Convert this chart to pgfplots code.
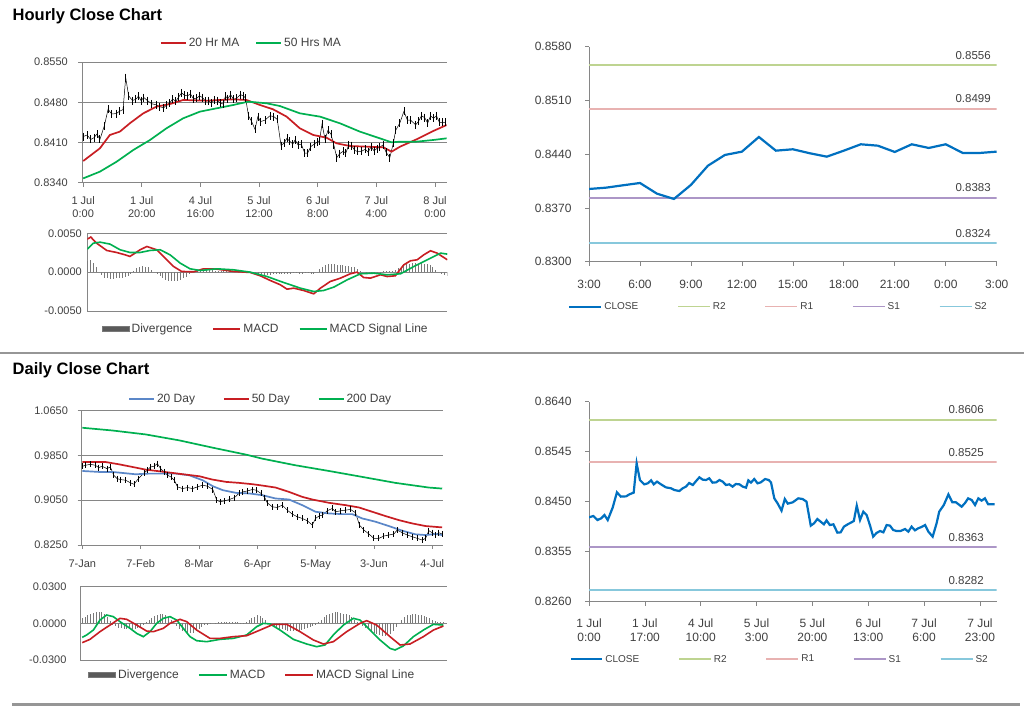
\documentclass[border=0pt]{standalone}
\usepackage{fontspec}
\setmainfont{Liberation Sans}
\usepackage{pgfplots}
\pgfplotsset{compat=1.18}
\usepackage{pgfplotstable}

\definecolor{axgray}{RGB}{134,134,134}
\definecolor{sepgray}{RGB}{150,150,150}
\definecolor{txt}{RGB}{64,64,64}
\definecolor{mared}{RGB}{200,30,35}
\definecolor{magreen}{RGB}{0,176,80}
\definecolor{mablue}{RGB}{91,135,200}
\definecolor{closeblue}{RGB}{0,112,192}
\definecolor{rtwo}{RGB}{190,212,145}
\definecolor{rone}{RGB}{232,178,177}
\definecolor{sone}{RGB}{172,150,199}
\definecolor{stwo}{RGB}{135,200,220}
\definecolor{divgray}{RGB}{120,120,120}
\definecolor{divleg}{RGB}{90,90,90}

\newcommand\tf{\fontsize{11}{13}\selectfont}
\newcommand\tfr{\fontsize{12}{14}\selectfont}
\newcommand\lf{\fontsize{12}{14}\selectfont}
\newcommand\rf{\fontsize{10}{12}\selectfont}

\pgfplotsset{
  base/.style={scale only axis, anchor=south west,
    axis line style={draw=axgray,line width=0.8pt},
    tick align=outside, major tick length=4pt,
    tick style={draw=axgray,line width=0.7pt},
    grid style={draw=axgray,line width=0.7pt},
    scaled y ticks=false,
    xticklabel style={align=center,font=\tf},
    yticklabel style={font=\tf},
    legend cell align=left},
  thinleg/.style={legend image code/.code={\draw[##1, line width=1.6pt] (0pt,0pt) -- (32pt,0pt);}},
  divlegimg/.style={legend image code/.code={\fill[fill=divleg] (0pt,-2.5pt) rectangle (27pt,2.5pt);}},
}

\pgfplotstableread{
h v
0 0.84203
1.3 0.84228
2.6 0.84152
3.7 0.84184
4.7 0.84247
5.7 0.84152
7.2 0.84387
8.5 0.84678
9.7 0.84596
11.3 0.84602
12.3 0.84640
13.6 0.84672
14.5 0.85229
15.5 0.84912
16.8 0.84830
17.9 0.84849
18.9 0.84906
19.7 0.84830
20.7 0.84881
21.9 0.84830
23.4 0.84773
25.0 0.84754
26.0 0.84722
27.5 0.84703
28.5 0.84754
29.5 0.84786
30.5 0.84855
31.6 0.84817
32.6 0.84893
33.6 0.84963
34.6 0.84919
35.6 0.84912
36.6 0.84944
37.6 0.84862
38.7 0.84868
39.7 0.84912
40.7 0.84881
41.7 0.84817
42.7 0.84830
43.7 0.84786
44.7 0.84836
45.8 0.84830
46.8 0.84786
47.8 0.84767
48.5 0.84906
49.3 0.84862
50.3 0.84931
51.3 0.84849
52.3 0.84868
53.6 0.84931
54.7 0.84912
55.4 0.84868
56.4 0.84564
57.4 0.84469
58.6 0.84330
59.6 0.84551
60.5 0.84463
62.0 0.84488
63.7 0.84564
65.0 0.84551
66.2 0.84501
67.5 0.84045
68.5 0.84089
69.5 0.84171
70.5 0.84121
71.5 0.84070
72.3 0.84146
73.3 0.84057
74.4 0.84070
75.6 0.83912
76.6 0.83918
77.6 0.84026
78.9 0.84076
79.9 0.84108
80.6 0.84133
81.5 0.84425
82.5 0.84152
83.5 0.84311
84.5 0.84247
85.5 0.84057
86.5 0.83836
87.5 0.83905
88.6 0.83943
89.6 0.83918
90.6 0.84057
91.6 0.84045
92.6 0.83962
93.6 0.83943
94.8 0.83943
96.2 0.83981
97.2 0.83931
98.2 0.84026
99.2 0.83956
100.2 0.83994
101.2 0.84019
102.3 0.84057
103.3 0.83931
104.6 0.83836
105.8 0.84089
106.6 0.84311
108.0 0.84437
109.4 0.84640
110.6 0.84488
111.7 0.84488
113.4 0.84406
114.4 0.84469
115.4 0.84564
116.5 0.84532
117.5 0.84437
118.5 0.84564
119.5 0.84520
120.5 0.84564
121.5 0.84450
122.5 0.84450
123.5 0.84450
}\hourly

\pgfplotstableread{
d v
0 0.9654
1.1 0.9672
2.9 0.9690
4.7 0.9672
5.9 0.9631
7.1 0.9654
8.9 0.9613
10.1 0.9643
11.3 0.9494
12.5 0.9435
13.8 0.9417
15.6 0.9406
17.4 0.9358
18.6 0.9334
20.2 0.9435
22.2 0.9536
23.4 0.9583
24.6 0.9643
25.8 0.9654
27.0 0.9702
28.2 0.9613
29.4 0.9554
30.7 0.9494
31.9 0.9465
33.1 0.9406
34.3 0.9287
36.1 0.9257
37.9 0.9275
39.7 0.9257
41.5 0.9287
43.3 0.9317
45.1 0.9299
47.0 0.9240
48.4 0.9050
49.6 0.9020
51.2 0.9038
53.0 0.9062
54.8 0.9097
56.4 0.9169
57.8 0.9198
59.6 0.9216
61.2 0.9240
62.6 0.9228
64.4 0.9169
65.7 0.9097
66.6 0.9003
68.4 0.8931
70.2 0.8920
72.0 0.8961
73.8 0.8872
75.6 0.8801
77.4 0.8754
79.2 0.8724
81.0 0.8683
82.8 0.8606
84.0 0.8724
85.2 0.8766
86.4 0.8783
88.2 0.8860
90.0 0.8902
91.2 0.8843
93.0 0.8860
94.8 0.8872
96.6 0.8884
98.4 0.8825
99.8 0.8606
101.4 0.8517
103.2 0.8446
105.0 0.8368
106.8 0.8368
108.6 0.8410
110.4 0.8428
112.2 0.8446
113.4 0.8517
115.2 0.8469
117.0 0.8428
118.8 0.8398
120.6 0.8368
122.4 0.8339
123.6 0.8368
124.8 0.8505
126.0 0.8469
127.2 0.8428
128.4 0.8469
129.6 0.8446
}\daily

\begin{document}
\color{txt}%
\begin{tikzpicture}
\path[use as bounding box, fill=white] (0pt,0pt) rectangle (1024pt,706pt);
\node[anchor=base west, font=\bfseries\fontsize{16.5}{19}\selectfont, inner sep=0pt, text=black] at (12.5pt,685.3pt) {Hourly Close Chart};
\node[anchor=base west, font=\bfseries\fontsize{16.5}{19}\selectfont, inner sep=0pt, text=black] at (12.5pt,331pt) {Daily Close Chart};
\draw[draw=sepgray, line width=1.2pt] (0pt,353pt) -- (1024pt,353pt);
\draw[draw=sepgray, line width=2.5pt] (12pt,1.5pt) -- (1020pt,1.5pt);

% ---------------- Panel 1: hourly price ----------------
\begin{axis}[base, at={(82.3pt,523.3pt)}, width=364.4pt, height=120.7pt,
  xmin=-0.3, xmax=124, ymin=0.834, ymax=0.855,
  axis x line*=bottom, axis y line*=left,
  ytick={0.834,0.841,0.848,0.855}, yticklabels={0.8340,0.8410,0.8480,0.8550},
  yticklabel style={xshift=-7pt}, xticklabel style={yshift=-6pt},
  ymajorgrids,
  xtick={0,20,40,60,80,100,120},
  xticklabels={{1 Jul\\0:00},{1 Jul\\20:00},{4 Jul\\16:00},{5 Jul\\12:00},{6 Jul\\8:00},{7 Jul\\4:00},{8 Jul\\0:00}},
  legend columns=-1,
  legend image code/.code={\draw[#1] (0pt,0pt) -- (25pt,0pt);},
  legend style={at={(axis description cs:0.213,1.157)}, anchor=west, draw=none, fill=none,
    inner xsep=0pt, inner ysep=0pt, font=\lf,
    /tikz/every even column/.append style={column sep=14pt}},
]
\addplot[draw=black, line width=0.5pt, forget plot, mark=|, mark size=4pt,
  mark options={draw=black, line width=0.8pt}]
  table[x=h,y=v] {\hourly};
\addplot[draw=mared, line width=1.7pt] coordinates {
(0,0.83777) (5.7,0.83998) (9.1,0.84230) (12.5,0.84288) (15.9,0.84433) (20.5,0.84607)
(25.0,0.84723) (29.6,0.84769) (34.1,0.84839) (42.1,0.84827) (51.2,0.84850) (55.7,0.84839)
(60.3,0.84752) (64.8,0.84676) (69.4,0.84549) (73.9,0.84346) (78.5,0.84230) (83.0,0.84183)
(86.4,0.84085) (91.0,0.84038) (96.7,0.84027) (102.4,0.84015) (105.2,0.83940) (108.1,0.84027)
(113.7,0.84154) (119.4,0.84299) (124.0,0.84404)};
\addlegendentry{20 Hr MA}
\addplot[draw=magreen, line width=1.7pt] coordinates {
(0,0.83475) (5.7,0.83592) (11.4,0.83765) (17.1,0.83969) (22.8,0.84143) (28.4,0.84346)
(34.1,0.84520) (39.8,0.84636) (45.5,0.84694) (51.2,0.84752) (56.3,0.84810) (62.6,0.84781)
(67.1,0.84734) (73.9,0.84607) (80.8,0.84549) (87.6,0.84433) (94.4,0.84288) (101.2,0.84172)
(105.2,0.84102) (108.1,0.84114) (113.7,0.84114) (119.4,0.84143) (124.0,0.84172)};
\addlegendentry{50 Hrs MA}
\end{axis}

% ---------------- Panel 2: hourly MACD ----------------
\begin{axis}[base, at={(87.3pt,395pt)}, width=360pt, height=77.7pt,
  xmin=0, xmax=124, ymin=-0.005, ymax=0.005,
  axis x line=none, axis y line*=left,
  ytick={-0.005,0,0.005}, yticklabels={-0.0050,0.0000,0.0050},
  yticklabel style={xshift=-2pt},
  ymajorgrids, major tick length=0pt,
  legend columns=-1,
  legend image code/.code={\draw[#1, line width=2pt] (0pt,0pt) -- (27pt,0pt);},
  legend style={at={(axis description cs:0.04,-0.232)}, anchor=west, draw=none, fill=none,
    inner xsep=0pt, inner ysep=0pt, font=\lf,
    /tikz/every even column/.append style={column sep=18pt}},
]
\addplot[draw=divgray, line width=0.7pt, ycomb, mark=none, divlegimg] coordinates {
(0,0.0014) (1,0.0015) (2,0.0012) (3,0.0006) (4,0.0000) (5,-0.0004) (6,-0.0007) (7,-0.0008)
(8,-0.0009) (9,-0.0009) (10,-0.0008) (11,-0.0008) (12,-0.0007) (13,-0.0006) (14,-0.0005)
(15,-0.0003) (16,0.0001) (17,0.0005) (18,0.0007) (19,0.0008) (20,0.0007) (21,0.0006)
(22,0.0003) (23,0.0000) (24,-0.0003) (25,-0.0005) (26,-0.0008) (27,-0.0010) (28,-0.0011)
(29,-0.0012) (30,-0.0012) (31,-0.0011) (32,-0.0010) (33,-0.0008) (34,-0.0006) (35,-0.0003)
(36,-0.0001) (37,0.0000) (38,0.0001) (39,0.0002) (40,0.0003) (41,0.0003) (42,0.0003)
(43,0.0003) (44,0.0002) (45,0.0002) (46,0.0002) (47,0.0001) (48,0.0001) (49,0.0002)
(50,0.0001) (51,0.0001) (52,0.0000) (53,0.0001) (54,0.0000) (55,-0.0001) (56,-0.0001)
(57,-0.0002) (58,-0.0003) (59,-0.0003) (60,-0.0003) (61,-0.0004) (62,-0.0004) (63,-0.0004)
(64,-0.0003) (65,-0.0003) (66,-0.0003) (67,-0.0003) (68,-0.0002) (69,-0.0002) (70,-0.0002)
(71,-0.0001) (72,-0.0001) (73,-0.0002) (74,-0.0002) (75,-0.0001) (76,-0.0001) (77,-0.0002)
(78,-0.0002) (79,0.0000) (80,0.0004) (81,0.0007) (82,0.0009) (83,0.0010) (84,0.0010)
(85,0.0010) (86,0.0009) (87,0.0009) (88,0.0009) (89,0.0008) (90,0.0008) (91,0.0007)
(92,0.0006) (93,0.0004) (94,0.0002) (95,0.0000) (96,-0.0002) (97,-0.0002) (98,-0.0002)
(99,-0.0001) (100,-0.0001) (101,-0.0001) (102,0.0001) (103,0.0002) (104,0.0002) (105,0.0001)
(106,0.0003) (107,0.0005) (108,0.0007) (109,0.0008) (110,0.0010) (111,0.0011) (112,0.0012)
(113,0.0012) (114,0.0011) (115,0.0012) (116,0.0010) (117,0.0010) (118,0.0009) (119,0.0006)
(120,0.0003) (121,0.0000) (122,-0.0002) (123,-0.0004) (124,-0.0005)};
\addlegendentry{Divergence}
\addplot[draw=mared, line width=1.6pt] coordinates {
(0,0.00425) (1.2,0.00451) (3.2,0.00373) (6.7,0.00279) (10.1,0.00253) (13.0,0.00223)
(14.7,0.00202) (18.2,0.00288) (20.5,0.00330) (23.9,0.00288) (26.2,0.00202) (29.7,0.00073)
(32.5,0.00009) (36.6,0.00004) (40.0,0.00043) (44.6,0.00039) (50.4,0.00009) (56.1,-0.00004)
(59.6,-0.00047) (63.0,-0.00107) (66.5,-0.00163) (68.8,-0.00219) (71.1,-0.00206) (74.5,-0.00236)
(78.0,-0.00279) (80.3,-0.00206) (83.7,-0.00120) (87.2,-0.00077) (90.6,-0.00021) (92.9,0.00000)
(95.2,-0.00069) (97.5,-0.00077) (101.0,-0.00034) (103.3,-0.00056) (106.1,-0.00047) (109.0,0.00094)
(111.3,0.00146) (113.6,0.00159) (115.9,0.00223) (118.2,0.00275) (120.5,0.00245) (124.0,0.00159)};
\addlegendentry{MACD}
\addplot[draw=magreen, line width=1.6pt] coordinates {
(0,0.00296) (2.1,0.00373) (4.4,0.00386) (7.8,0.00361) (11.3,0.00288) (14.7,0.00253)
(18.2,0.00253) (21.6,0.00279) (25.1,0.00288) (28.5,0.00223) (32.0,0.00116) (35.4,0.00043)
(38.9,0.00021) (44.6,0.00043) (50.4,0.00030) (56.1,0.00000) (61.9,-0.00056) (67.6,-0.00133)
(73.4,-0.00206) (78.0,-0.00249) (81.4,-0.00236) (84.9,-0.00193) (89.5,-0.00099) (94.1,-0.00021)
(98.7,-0.00013) (103.3,-0.00034) (107.9,-0.00021) (112.5,0.00073) (117.1,0.00159) (121.7,0.00245)
(124.0,0.00232)};
\addlegendentry{MACD Signal Line}
\end{axis}

% ---------------- Panel 3: 1 Hr pivot ----------------
\begin{axis}[base, at={(589pt,444.3pt)}, width=407.7pt, height=215pt,
  xmin=0, xmax=24, ymin=0.83, ymax=0.858,
  axis x line*=bottom, axis y line*=left,
  xticklabel style={font=\tfr, yshift=-11pt}, yticklabel style={font=\tfr, xshift=-10pt},
  ytick={0.83,0.837,0.844,0.851,0.858}, yticklabels={0.8300,0.8370,0.8440,0.8510,0.8580},
  xtick={0,3,...,24}, xticklabels={3:00,6:00,9:00,12:00,15:00,18:00,21:00,0:00,3:00},
  legend columns=-1,
  legend image code/.code={\draw[#1] (0pt,0pt) -- (32pt,0pt);},
  legend style={at={(axis description cs:-0.0515,-0.209)}, anchor=west, draw=none, fill=none,
    inner xsep=0pt, inner ysep=0pt, font=\rf,
    /tikz/every even column/.append style={column sep=37pt}},
]
\addlegendimage{draw=closeblue, line width=2.2pt}
\addlegendentry{CLOSE}
\addplot[draw=rtwo, line width=2pt, thinleg] coordinates {(0,0.8556) (24,0.8556)};
\addlegendentry{R2}
\addplot[draw=rone, line width=2pt, thinleg] coordinates {(0,0.8499) (24,0.8499)};
\addlegendentry{R1}
\addplot[draw=sone, line width=2pt, thinleg] coordinates {(0,0.8383) (24,0.8383)};
\addlegendentry{S1}
\addplot[draw=stwo, line width=2pt, thinleg] coordinates {(0,0.8324) (24,0.8324)};
\addlegendentry{S2}
\addplot[draw=closeblue, line width=2.2pt, forget plot] coordinates {
(0,0.83947) (1,0.83964) (2,0.83995) (3,0.84025) (4,0.83886) (5,0.83817) (6,0.84000)
(7,0.84250) (8,0.84390) (9,0.84433) (10,0.84624) (11,0.84446) (12,0.84464) (13,0.84412)
(14,0.84368) (15,0.84446) (16,0.84529) (17,0.84511) (18,0.84429) (19,0.84529) (20,0.84481)
(21,0.84529) (22,0.84416) (23,0.84416) (24,0.84433)};
\node[anchor=base east, font=\fontsize{11.5}{13}\selectfont, inner sep=0pt] at (axis cs:23.66,0.8556) [yshift=6pt] {0.8556};
\node[anchor=base east, font=\fontsize{11.5}{13}\selectfont, inner sep=0pt] at (axis cs:23.66,0.8499) [yshift=6pt] {0.8499};
\node[anchor=base east, font=\fontsize{11.5}{13}\selectfont, inner sep=0pt] at (axis cs:23.66,0.8383) [yshift=6pt] {0.8383};
\node[anchor=base east, font=\fontsize{11.5}{13}\selectfont, inner sep=0pt] at (axis cs:23.66,0.8324) [yshift=6pt] {0.8324};
\node[font=\fontsize{11}{13}\selectfont] at (axis description cs:0.451,-0.307) {Note: Support \& Resistance Calculated based on 1 Hr Pivot Points};
\end{axis}

% ---------------- Panel 4: daily price ----------------
\begin{axis}[base, at={(81.5pt,161pt)}, width=361.8pt, height=134.5pt,
  xmin=-0.3, xmax=130, ymin=0.825, ymax=1.065,
  axis x line*=bottom, axis y line*=left,
  ytick={0.825,0.905,0.985,1.065}, yticklabels={0.8250,0.9050,0.9850,1.0650},
  yticklabel style={xshift=-6pt}, xticklabel style={yshift=-7pt},
  ymajorgrids,
  xtick={0,21,42,63,84,105,126},
  xticklabels={7-Jan,7-Feb,8-Mar,6-Apr,5-May,3-Jun,4-Jul},
  legend columns=-1,
  legend image code/.code={\draw[#1] (0pt,0pt) -- (25pt,0pt);},
  legend style={at={(axis description cs:0.129,1.0855)}, anchor=west, draw=none, fill=none,
    inner xsep=0pt, inner ysep=0pt, font=\lf,
    /tikz/every even column/.append style={column sep=26pt}},
]
\addplot[draw=black, line width=0.5pt, forget plot, mark=|, mark size=3pt,
  mark options={draw=black, line width=0.8pt}]
  table[x=d,y=v] {\daily};
\addplot[draw=mablue, line width=1.7pt] coordinates {
(0,0.9571) (5.9,0.9554) (10.7,0.9554) (14.4,0.9536) (19.2,0.9512) (24.0,0.9524) (28.8,0.9524)
(33.7,0.9524) (38.5,0.9494) (43.3,0.9406) (47.0,0.9299) (50.6,0.9228) (55.4,0.9180) (60.2,0.9169)
(64.8,0.9139) (69.6,0.9080) (74.4,0.9062) (79.2,0.8961) (84.0,0.8843) (88.8,0.8813) (93.6,0.8801)
(97.2,0.8801) (100.8,0.8724) (105.6,0.8665) (110.4,0.8588) (115.2,0.8505) (120.0,0.8440)
(123.6,0.8428) (127.2,0.8446) (129.6,0.8428)};
\addlegendentry{20 Day}
\addplot[draw=mared, line width=1.7pt] coordinates {
(0,0.9731) (8.3,0.9731) (13.2,0.9690) (18.0,0.9643) (22.8,0.9595) (27.6,0.9566) (32.5,0.9536)
(37.3,0.9506) (42.1,0.9477) (46.9,0.9417) (51.8,0.9376) (56.6,0.9358) (61.4,0.9334) (64.8,0.9311)
(69.6,0.9275) (74.4,0.9198) (79.2,0.9109) (82.8,0.9062) (88.8,0.9003) (94.8,0.8961) (99.6,0.8920)
(104.4,0.8843) (109.2,0.8766) (114.0,0.8694) (118.8,0.8635) (123.6,0.8588) (129.6,0.8564)};
\addlegendentry{50 Day}
\addplot[draw=magreen, line width=1.7pt] coordinates {
(0,1.0342) (10.7,1.0294) (22.8,1.0223) (34.9,1.0117) (47.0,0.9986) (59.0,0.9862) (64.8,0.9791)
(76.8,0.9672) (88.8,0.9571) (100.8,0.9465) (112.8,0.9358) (124.8,0.9275) (129.6,0.9257)};
\addlegendentry{200 Day}
\end{axis}

% ---------------- Panel 5: daily MACD ----------------
\begin{axis}[base, at={(80pt,46pt)}, width=366.7pt, height=73.3pt,
  xmin=-0.8, xmax=131.2, ymin=-0.03, ymax=0.03,
  axis x line=none, axis y line*=left,
  ytick={-0.03,0,0.03}, yticklabels={-0.0300,0.0000,0.0300},
  yticklabel style={xshift=-10pt},
  ymajorgrids, major tick length=0pt,
  legend columns=-1,
  legend image code/.code={\draw[#1, line width=2pt] (0pt,0pt) -- (28pt,0pt);},
  legend style={at={(axis description cs:0.0226,-0.209)}, anchor=west, draw=none, fill=none,
    inner xsep=0pt, inner ysep=0pt, font=\lf,
    /tikz/every even column/.append style={column sep=17pt}},
]
\addplot[draw=divgray, line width=0.7pt, ycomb, mark=none, divlegimg] coordinates {
(0,0.0045) (1,0.0055) (2,0.0065) (3,0.0075) (4,0.0085) (5,0.0090) (6,0.0095) (7,0.0090)
(8,0.0080) (9,0.0050) (10,0.0020) (11,-0.0010) (12,-0.0025) (13,-0.0035) (14,-0.0040)
(15,-0.0045) (16,-0.0050) (17,-0.0050) (18,-0.0050) (19,-0.0045) (20,-0.0040) (21,-0.0030)
(22,-0.0010) (23,0.0010) (24,0.0030) (25,0.0045) (26,0.0060) (27,0.0070) (28,0.0075)
(29,0.0075) (30,0.0070) (31,0.0055) (32,0.0030) (33,0.0000) (34,-0.0025) (35,-0.0045)
(36,-0.0060) (37,-0.0070) (38,-0.0080) (39,-0.0080) (40,-0.0075) (41,-0.0065) (42,-0.0045)
(43,-0.0030) (44,-0.0015) (45,-0.0010) (46,-0.0005) (47,0.0000) (48,0.0005) (49,0.0008)
(50,0.0010) (51,0.0010) (52,0.0012) (53,0.0010) (54,0.0008) (55,0.0010) (56,0.0008)
(57,0.0005) (58,0.0005) (59,0.0010) (60,0.0025) (61,0.0040) (62,0.0055) (63,0.0065)
(64,0.0060) (65,0.0045) (66,0.0025) (67,0.0005) (68,-0.0010) (69,-0.0025) (70,-0.0035)
(71,-0.0045) (72,-0.0050) (73,-0.0055) (74,-0.0060) (75,-0.0065) (76,-0.0065) (77,-0.0065)
(78,-0.0060) (79,-0.0055) (80,-0.0050) (81,-0.0040) (82,-0.0030) (83,-0.0020) (84,-0.0010)
(85,0.0010) (86,0.0030) (87,0.0050) (88,0.0070) (89,0.0080) (90,0.0085) (91,0.0090)
(92,0.0090) (93,0.0085) (94,0.0080) (95,0.0075) (96,0.0065) (97,0.0050) (98,0.0030)
(99,0.0015) (100,0.0000) (101,-0.0020) (102,-0.0035) (103,-0.0050) (104,-0.0065) (105,-0.0075)
(106,-0.0085) (107,-0.0095) (108,-0.0100) (109,-0.0100) (110,-0.0095) (111,-0.0085)
(112,-0.0060) (113,-0.0030) (114,0.0000) (115,0.0030) (116,0.0050) (117,0.0065) (118,0.0070)
(119,0.0075) (120,0.0075) (121,0.0070) (122,0.0065) (123,0.0060) (124,0.0050) (125,0.0040)
(126,0.0030) (127,0.0020) (128,0.0015) (129,0.0010) (130,0.0010)};
\addlegendentry{Divergence}
\addplot[draw=magreen, line width=1.6pt] coordinates {
(0,-0.0115) (1.6,-0.0095) (4.0,-0.0055) (6.4,0.0027) (8.8,0.0068) (11.2,0.0055) (13.6,0.0014)
(17.2,-0.0041) (19.6,-0.0082) (22.0,-0.0109) (24.4,-0.0068) (26.8,0.0000) (29.2,0.0041)
(31.6,0.0055) (34.0,0.0027) (36.4,-0.0041) (38.8,-0.0109) (41.2,-0.0142) (44.8,-0.0150)
(49.6,-0.0131) (54.4,-0.0123) (59.2,-0.0095) (62.8,-0.0027) (65.2,0.0000) (67.6,-0.0005)
(71.2,-0.0055) (76.0,-0.0131) (80.8,-0.0169) (84.4,-0.0191) (87.4,-0.0177) (90.4,-0.0095)
(94.0,-0.0014) (97.6,0.0041) (100.0,0.0027) (103.6,-0.0055) (107.2,-0.0136) (110.8,-0.0205)
(112.6,-0.0218) (115.6,-0.0185) (119.2,-0.0109) (122.8,-0.0055) (126.4,-0.0008) (130.0,-0.0014)};
\addlegendentry{MACD}
\addplot[draw=mared, line width=1.6pt] coordinates {
(0,-0.0158) (2.8,-0.0131) (6.4,-0.0068) (10.0,-0.0014) (13.6,0.0041) (16.0,0.0033) (19.6,-0.0014)
(23.2,-0.0063) (25.6,-0.0068) (29.2,-0.0041) (31.6,0.0000) (35.2,0.0033) (37.6,0.0014)
(41.2,-0.0055) (46.0,-0.0123) (49.6,-0.0123) (54.4,-0.0109) (59.2,-0.0101) (64.0,-0.0055)
(68.8,-0.0008) (73.6,-0.0008) (78.4,-0.0068) (83.2,-0.0136) (86.8,-0.0169) (90.4,-0.0150)
(95.2,-0.0068) (100.0,0.0000) (102.4,0.0022) (106.0,-0.0014) (110.8,-0.0109) (114.4,-0.0177)
(118.0,-0.0169) (122.8,-0.0109) (126.4,-0.0055) (130.0,-0.0022)};
\addlegendentry{MACD Signal Line}
\end{axis}

% ---------------- Panel 6: 24 Hr pivot ----------------
\begin{axis}[base, at={(589pt,104.3pt)}, width=407.7pt, height=200pt,
  xmin=0, xmax=124.1, ymin=0.826, ymax=0.864,
  axis x line*=bottom, axis y line*=left,
  xticklabel style={font=\tfr, yshift=-10pt}, yticklabel style={font=\tfr, xshift=-10pt},
  ytick={0.826,0.8355,0.845,0.8545,0.864}, yticklabels={0.8260,0.8355,0.8450,0.8545,0.8640},
  xtick={0,17,34,51,68,85,102,119},
  xticklabels={{1 Jul\\0:00},{1 Jul\\17:00},{4 Jul\\10:00},{5 Jul\\3:00},{5 Jul\\20:00},{6 Jul\\13:00},{7 Jul\\6:00},{7 Jul\\23:00}},
  legend columns=-1,
  legend image code/.code={\draw[#1] (0pt,0pt) -- (31pt,0pt);},
  legend style={at={(axis description cs:-0.0466,-0.288)}, anchor=west, draw=none, fill=none,
    inner xsep=0pt, inner ysep=0pt, font=\rf,
    /tikz/every even column/.append style={column sep=37pt}},
]
\addlegendimage{draw=closeblue, line width=2.2pt}
\addlegendentry{CLOSE}
\addplot[draw=rtwo, line width=2pt, thinleg] coordinates {(0,0.8606) (124.1,0.8606)};
\addlegendentry{R2}
\addplot[draw=rone, line width=2pt, thinleg] coordinates {(0,0.8525) (124.1,0.8525)};
\addlegendentry{R1}
\addplot[draw=sone, line width=2pt, thinleg] coordinates {(0,0.8363) (124.1,0.8363)};
\addlegendentry{S1}
\addplot[draw=stwo, line width=2pt, thinleg] coordinates {(0,0.8282) (124.1,0.8282)};
\addlegendentry{S2}
\addplot[draw=closeblue, line width=2.2pt, forget plot] table[x=h,y=v] {\hourly};
\node[anchor=base east, font=\fontsize{11.5}{13}\selectfont, inner sep=0pt] at (axis cs:120.2,0.8606) [yshift=6pt] {0.8606};
\node[anchor=base east, font=\fontsize{11.5}{13}\selectfont, inner sep=0pt] at (axis cs:120.2,0.8525) [yshift=6pt] {0.8525};
\node[anchor=base east, font=\fontsize{11.5}{13}\selectfont, inner sep=0pt] at (axis cs:120.2,0.8363) [yshift=6pt] {0.8363};
\node[anchor=base east, font=\fontsize{11.5}{13}\selectfont, inner sep=0pt] at (axis cs:120.2,0.8282) [yshift=6pt] {0.8282};
\node[font=\fontsize{11}{13}\selectfont] at (axis description cs:0.457,-0.388) {Note: Support \& Resistance Calculated based on 24 Hr Pivot Points};
\end{axis}
\end{tikzpicture}
\end{document}
